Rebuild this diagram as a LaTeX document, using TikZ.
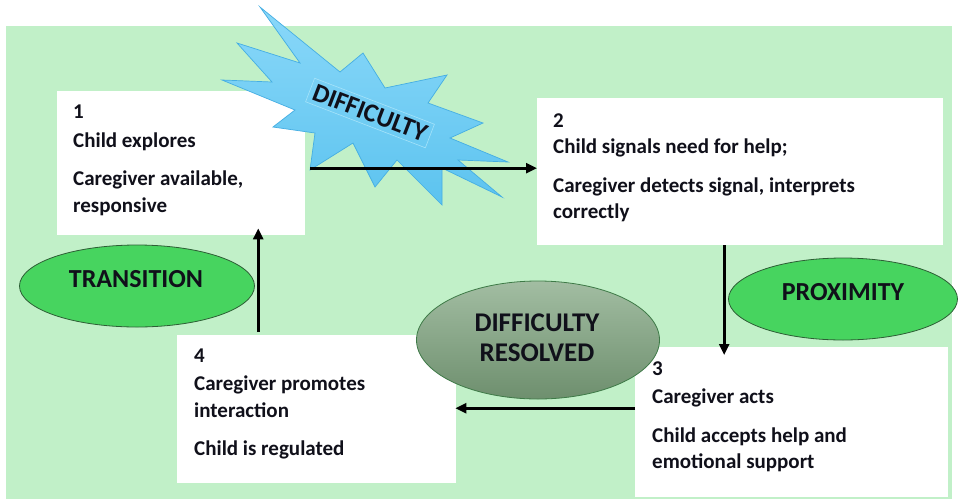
\documentclass[tikz,border=0pt]{standalone}
\usepackage{fontspec}
\setmainfont{Carlito}
\usetikzlibrary{arrows.meta,shapes.geometric}
\definecolor{bggreen}{HTML}{C1F0C8}
\definecolor{txtc}{HTML}{10101A}
\definecolor{brightgreen}{HTML}{47D45F}
\definecolor{ellborder}{HTML}{2D5E35}
\definecolor{greytop}{HTML}{A2BDA2}
\definecolor{greybot}{HTML}{6E8F6E}
\definecolor{greyborder}{HTML}{3E7A47}
\definecolor{startop}{HTML}{8AD8F9}
\definecolor{starbot}{HTML}{5CC3EF}
\definecolor{starborder}{HTML}{45AEE3}
\definecolor{starbox}{HTML}{A5E3FA}
\tikzset{
  stagebox/.style={rectangle, fill=white, draw=none, inner sep=0pt, anchor=north west},
  boxtxt/.style={font=\fontsize{21}{25}\selectfont\bfseries, text=txtc, anchor=base west, inner sep=0pt},
  greenell/.style={ellipse, fill=brightgreen, draw=ellborder, line width=0.8pt, inner sep=0pt},
  greyell/.style={ellipse, top color=greytop, bottom color=greybot, draw=greyborder, line width=0.8pt, inner sep=0pt},
  elltxt/.style={font=\fontsize{26}{30}\selectfont\bfseries, text=txtc, anchor=base, inner sep=0pt},
  arr/.style={line width=2.6pt, draw=black, -{Triangle[length=11pt,width=10pt]}},
}
\begin{document}
\begin{tikzpicture}[x=1pt,y=-1pt]
\useasboundingbox (0,0) rectangle (959,499);
\fill[bggreen] (6,26) rectangle (952,499);

% boxes
\node[stagebox, minimum width=248pt, minimum height=144pt] (b1) at (57,91) {};
\node[stagebox, minimum width=406pt, minimum height=147pt] (b2) at (537,98) {};
\node[stagebox, minimum width=313pt, minimum height=150pt] (b3) at (635,347) {};
\node[stagebox, minimum width=279pt, minimum height=148pt] (b4) at (177,335) {};

% box texts
\node[boxtxt] (t1a) at (73,118) {1};
\node[boxtxt] (t1b) at (73,147) {Child explores};
\node[boxtxt] (t1c) at (73,185) {Caregiver available,};
\node[boxtxt] (t1d) at (73,212) {responsive};

\node[boxtxt] (t2a) at (553,127) {2};
\node[boxtxt] (t2b) at (553,153) {Child signals need for help;};
\node[boxtxt] (t2c) at (553,192) {Caregiver detects signal, interprets};
\node[boxtxt] (t2d) at (553,218) {correctly};

\node[boxtxt] (t3a) at (652,375) {3};
\node[boxtxt] (t3b) at (652,403) {Caregiver acts};
\node[boxtxt] (t3c) at (652,442) {Child accepts help and};
\node[boxtxt] (t3d) at (652,468) {emotional support};

\node[boxtxt] (t4a) at (194,362) {4};
\node[boxtxt] (t4b) at (194,390) {Caregiver promotes};
\node[boxtxt] (t4c) at (194,417) {interaction};
\node[boxtxt] (t4d) at (194,455) {Child is regulated};

% starburst
\shade[top color=startop, bottom color=starbot, draw=starborder, line width=0.7pt, line join=miter]
  (260,7) -- (340,72) -- (363,53) -- (385,88) -- (447,75) -- (428,103) -- (483,123)
  -- (450,138) -- (508,162) -- (458,160) -- (502,197) -- (442,168) -- (442,205)
  -- (397,160) -- (375,187) -- (353,143) -- (310,170) -- (315,133) -- (273,127)
  -- (295,110) -- (222,80) -- (272,82) -- (237,43) -- (300,63) -- cycle;
\node[rotate=-21, font=\fontsize{26}{30}\selectfont\bfseries, text=txtc, draw=starbox, line width=0.6pt, inner sep=4pt] (dtx) at (370,113) {DIFFICULTY};

% ellipses
\node[greenell, minimum width=235pt, minimum height=82pt] (e1) at (137,286) {};
\node[elltxt] (e1t) at (136,287) {TRANSITION};
\node[greenell, minimum width=229pt, minimum height=82pt] (e2) at (843,299) {};
\node[elltxt] (e2t) at (843,300.5) {PROXIMITY};
\node[greyell, minimum width=243pt, minimum height=118pt] (e3) at (538,340) {};
\node[elltxt, font=\fontsize{27}{30}\selectfont\bfseries] (e3a) at (537,331.5) {DIFFICULTY};
\node[elltxt, font=\fontsize{27}{30}\selectfont\bfseries] (e3b) at (537,361.5) {RESOLVED};

% connectors
\draw[arr] ([xshift=5pt,yshift=-5pt]b1.east) -- ([yshift=-5pt]b1.east -| b2.west);
\draw[arr, shorten >=-8pt] ([xshift=-16pt]b2.south) -- ([xshift=-16pt]b2.south |- b3.north);
\draw[arr, shorten >=-1pt] ([yshift=14pt]b3.west) -- ([yshift=14pt]b3.west -| b4.east);
\draw[arr, shorten >=-7pt] ([xshift=-58.5pt,yshift=3pt]b4.north) -- ([xshift=-58.5pt]b4.north |- b1.south);
\end{tikzpicture}
\end{document}
